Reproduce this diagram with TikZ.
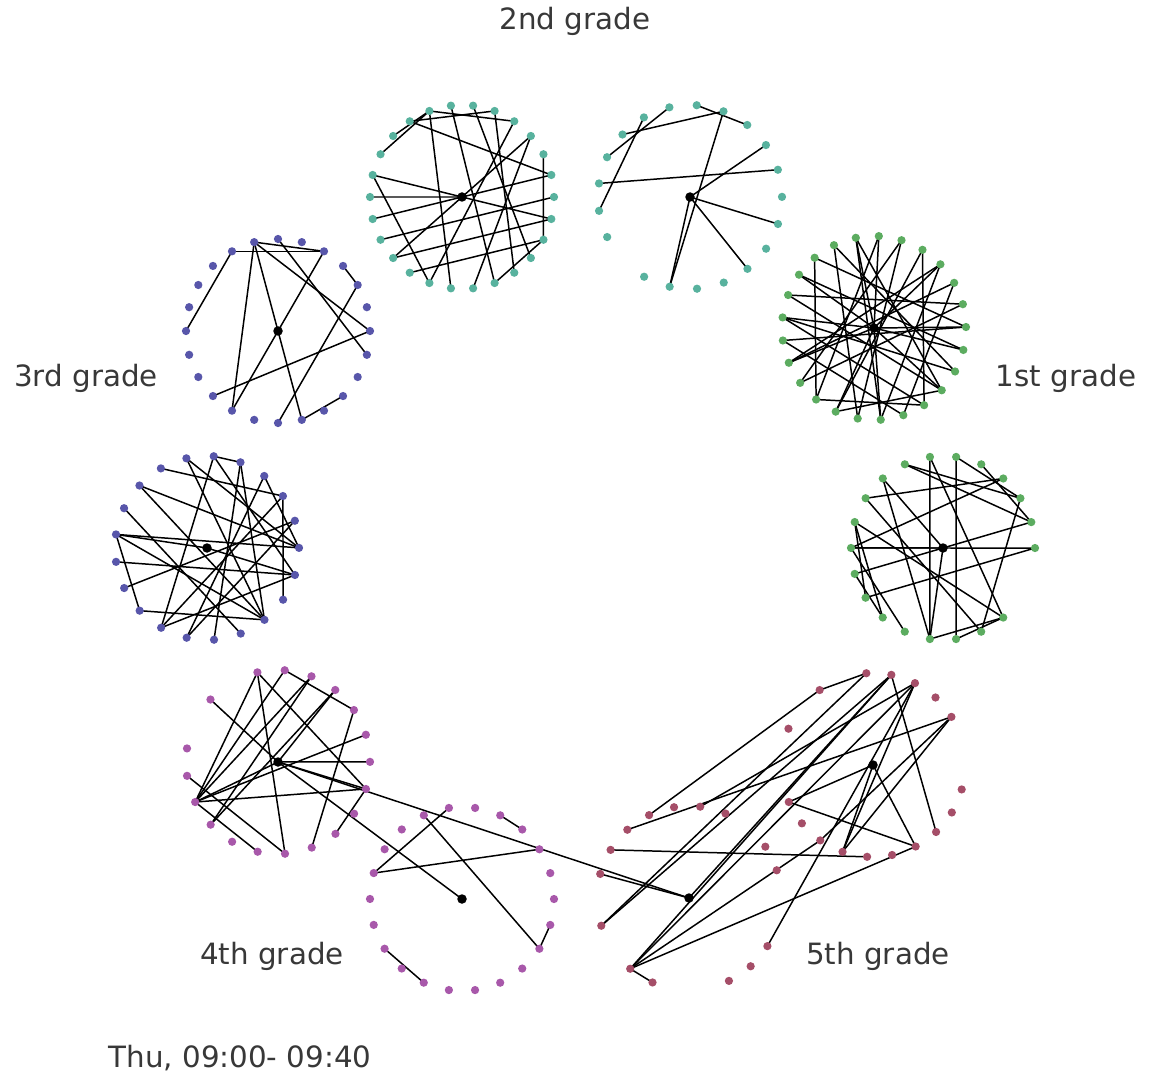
\documentclass[tikz,border=0pt]{standalone}
\usepackage{fontspec}
\setmainfont{DejaVu Sans}
\usepackage{xcolor}
\usepackage{tikz}
\usetikzlibrary{positioning,backgrounds}

\definecolor{cTeal}{RGB}{88,178,158}
\definecolor{cGreen}{RGB}{92,172,96}
\definecolor{cBlue}{RGB}{88,86,170}
\definecolor{cPurple}{RGB}{168,88,170}
\definecolor{cMaroon}{RGB}{165,78,104}

\begin{document}
\begin{tikzpicture}[
    x=0.02cm, y=-0.02cm,
    dot/.style={circle, draw=none, inner sep=0pt, minimum size=0.165cm},
    tdot/.style={dot, fill=cTeal},
    gdot/.style={dot, fill=cGreen},
    bdot/.style={dot, fill=cBlue},
    pdot/.style={dot, fill=cPurple},
    mdot/.style={dot, fill=cMaroon},
    hub/.style={circle, draw=none, inner sep=0pt, minimum size=0.19cm, fill=black},
    link/.style={line width=0.85pt, black},
    grade/.style={font=\fontsize{16.7}{20}\selectfont, text=black!78, inner sep=0pt}
]
\useasboundingbox (0,0) rectangle (1153,1074);

% ============================================================
% CLUSTERS — ring of pupils, teacher in the middle
% ============================================================
% 2nd grade (left)
\node[hub] (s2a-c) at (462,197) {};
\foreach \i in {0,...,25}
  \node[tdot] (s2a-\i) at ({462+92*sin(6.92+\i*360/26)},{197-92*cos(6.92+\i*360/26)}) {};
% 2nd grade (right)
\node[hub] (s2b-c) at (690,197) {};
\foreach \i in {0,...,12,14,15,...,20}
  \node[tdot] (s2b-\i) at ({690+92*sin(4.2+\i*360/21)},{197-92*cos(4.2+\i*360/21)}) {};
% 1st grade (top)
\node[hub] (s1a-c) at (874,328) {};
\foreach \i in {0,...,24}
  \node[gdot] (s1a-\i) at ({874+92*sin(3+\i*360/25)},{328-92*cos(3+\i*360/25)}) {};
% 1st grade (bottom)
\node[hub] (s1b-c) at (943,548) {};
\foreach \i in {0,...,5,8,9,...,21}
  \node[gdot] (s1b-\i) at ({943+92*sin(8.2+\i*360/22)},{548-92*cos(8.2+\i*360/22)}) {};
% 5th grade (right)
\node[hub] (s5a-c) at (873,765) {};
\foreach \i in {0,1,2,3,6,7,...,15,18,20,22}
  \node[mdot] (s5a-\i) at ({873+92*sin(11.5+\i*360/23)},{765-92*cos(11.5+\i*360/23)}) {};
% 5th grade (bottom)
\node[hub] (s5b-c) at (689,898) {};
\foreach \i in {0,1,3,4,7,8,9,12,13,15,17,18,...,21}
  \node[mdot] (s5b-\i) at ({689+92*sin(7+\i*360/22)},{898-92*cos(7+\i*360/22)}) {};
% 4th grade (bottom)
\node[hub] (s4a-c) at (462,899) {};
\foreach \i in {0,...,21}
  \node[pdot] (s4a-\i) at ({462+92*sin(8.2+\i*360/22)},{899-92*cos(8.2+\i*360/22)}) {};
% 4th grade (left)
\node[hub] (s4b-c) at (278,762) {};
\foreach \i in {0,...,16,18,20}
  \node[pdot] (s4b-\i) at ({278+92*sin(4.2+\i*360/21)},{762-92*cos(4.2+\i*360/21)}) {};
% 3rd grade (bottom)
\node[hub] (s3a-c) at (207,548) {};
\foreach \i in {0,...,20}
  \node[bdot] (s3a-\i) at ({207+92*sin(4.2+\i*360/21)},{548-92*cos(4.2+\i*360/21)}) {};
% 3rd grade (top)
\node[hub] (s3b-c) at (278,331) {};
\foreach \i in {0,...,23}
  \node[bdot] (s3b-\i) at ({278+92*sin(\i*15)},{331-92*cos(\i*15)}) {};

% ============================================================
% LABELS
% ============================================================
\node[grade] (l2) at (575,21)   {2nd grade};
\node[grade] (l1) at (1066,378) {1st grade};
\node[grade] (l3) at (86,378)   {3rd grade};
\node[grade] (l4) at (272,956)  {4th grade};
\node[grade] (l5) at (878,956)  {5th grade};
\node[grade] (ltime) at (240,1058) {Thu, 09:00- 09:40};

% ============================================================
% CONTACTS — drawn under the dots
% ============================================================
\begin{scope}[on background layer]
\foreach \a/\b in {23/1, 24/2, 21/24, 22/24, 20/7, 23/5, 24/13, 25/11, 1/10, 2/14,
                   3/16, 6/17, 8/15, 18/5, 20/14, 11/8, 4/8, c/19, 16/7, 0/9, 12/3}
  \draw[link] (s2a-\a.center) -- (s2a-\b.center);
\foreach \a/\b in {20/17, 19/15, 18/1, 0/2, 1/11, 16/4, c/3, c/6, c/8, c/11}
  \draw[link] (s2b-\a.center) -- (s2b-\b.center);
\foreach \a/\b in {22/15, 18/6, 24/9, 0/15, 23/8, 1/16, 2/14, 3/17, 21/7, 20/9,
                   19/10, 17/4, 22/6, 15/10, 14/9, 16/5, 13/1, 12/3, 20/5, 19/8,
                   24/12, c/0, c/3, c/6, c/9, c/12, c/14, c/17, c/19, c/21, c/24,
                   c/7, 18/11, 11/4, 10/2, 23/13}
  \draw[link] (s1a-\a.center) -- (s1a-\b.center);
\foreach \a/\b in {21/11, 0/10, 0/3, 21/8, 1/4, 18/2, 19/11, 19/c, 16/5, 15/4,
                   14/5, 17/8, 11/8, 10/8, c/11, 20/4, 16/2, 17/13, 12/16, 9/3,
                   16/c, 13/15, 18/9, 20/3, 14/17}
  \draw[link] (s1b-\a.center) -- (s1b-\b.center);
\foreach \a/\b in {20/22, c/15, c/9, c/12, 15/9, 0/8, 1/12, 3/12, 3/13}
  \draw[link] (s5a-\a.center) -- (s5a-\b.center);
\foreach \a/\b in {13/12, 17/c}
  \draw[link] (s5b-\a.center) -- (s5b-\b.center);
\foreach \a/\b in {20/20, 19/3, 15/22, 15/0, 13/0, 13/1, 13/13, 13/9, 7/1, 0/1, 18/11, c/0}
  \draw[link] (s5b-\a.center) -- (s5a-\b.center);
\foreach \a/\b in {1/2, 21/17, 20/7, 17/3, 7/6, 14/12}
  \draw[link] (s4a-\a.center) -- (s4a-\b.center);
\foreach \a/\b in {18/c, 20/14, 0/14, 0/3, 1/14, 1/13, 2/13, 3/9, 20/6, c/5,
                   c/6, 14/6, 15/10, 14/11, 8/6, 14/c, 20/10, 2/c, 4/14}
  \draw[link] (s4b-\a.center) -- (s4b-\b.center);
\draw[link] (s4b-c.center) -- (s4a-c.center);
\draw[link] (s4b-c.center) -- (s5b-c.center);
\foreach \a/\b in {19/3, 20/8, 0/1, 0/12, 0/6, 1/10, 1/8, 18/5, 18/8, 16/5,
                   16/8, 16/13, 13/8, 12/6, 20/5, c/6, 2/11, 15/6, 14/4, 17/9,
                   2/5, c/16, 3/7, 11/4, 12/3}
  \draw[link] (s3a-\a.center) -- (s3a-\b.center);
\foreach \a/\b in {22/2, 23/2, 22/18, 23/11, 23/14, 2/c, c/14, 0/7, 23/6, 3/4,
                   4/12, 6/15, 11/9}
  \draw[link] (s3b-\a.center) -- (s3b-\b.center);
\end{scope}

\end{tikzpicture}
\end{document}
